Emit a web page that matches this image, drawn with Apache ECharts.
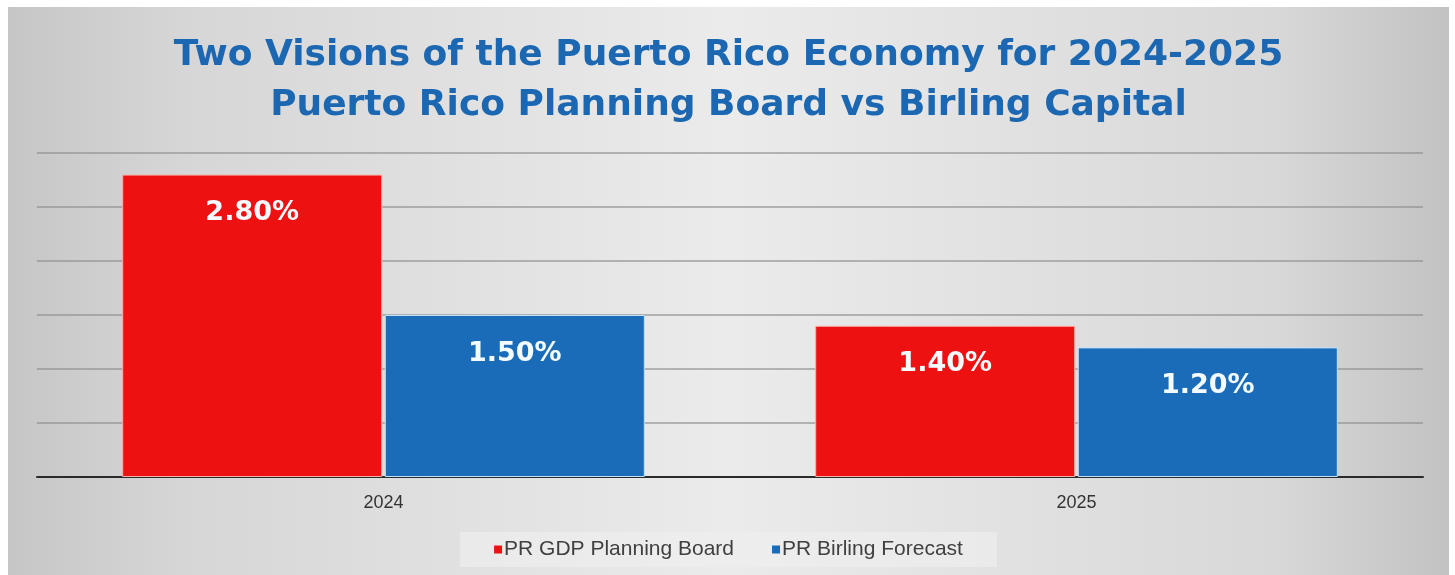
<!DOCTYPE html>
<html>
<head>
<meta charset="utf-8">
<script src="https://cdn.jsdelivr.net/npm/echarts@6/dist/echarts.min.js"></script>
<style>
html,body{margin:0;padding:0;background:#ffffff;width:1455px;height:575px;overflow:hidden;}
#chart{position:absolute;left:8px;top:7px;width:1441px;height:568px;}
</style>
</head>
<body>
<div id="chart"></div>
<script>
const categories = ['2024', '2025'];
const planningBoard = [2.8, 1.4];
const birlingForecast = [1.5, 1.2];
const seriesNames = ['PR GDP Planning Board', 'PR Birling Forecast'];
const titleLines = ['Two Visions of the Puerto Rico Economy for 2024-2025', 'Puerto Rico Planning Board vs Birling Capital'];

const chart = echarts.init(document.getElementById('chart'), null, {renderer: 'canvas'});

const labelStyle = {
  show: true,
  position: 'insideTop',
  distance: 25,
  color: '#f4fbff',
  fontFamily: '"DejaVu Sans", sans-serif',
  fontWeight: 'bold',
  fontSize: 27,
  formatter: p => p.value.toFixed(2) + '%'
};

chart.setOption({
  backgroundColor: {
    type: 'linear', x: 0, y: 0, x2: 1, y2: 0,
    colorStops: [
      {offset: 0, color: '#c6c6c6'},
      {offset: 0.12, color: '#d6d6d6'},
      {offset: 0.5, color: '#ebebeb'},
      {offset: 0.88, color: '#d8d8d8'},
      {offset: 1, color: '#c2c2c2'}
    ]
  },
  title: {
    text: titleLines.join('\n'),
    left: 'center',
    top: 19,
    textStyle: {
      color: '#1b67b2',
      fontFamily: '"DejaVu Sans", sans-serif',
      fontWeight: 'bold',
      fontSize: 36,
      lineHeight: 50
    }
  },
  legend: {
    data: seriesNames,
    bottom: 8,
    left: 'center',
    itemWidth: 8,
    itemHeight: 8,
    itemGap: 38,
    icon: 'rect',
    itemStyle: {borderWidth: 0},
    padding: [7, 34, 7, 34],
    backgroundColor: 'rgba(238,238,238,0.7)',
    textStyle: {
      color: '#404040',
      fontFamily: '"Liberation Sans", Arial, sans-serif',
      fontSize: 21,
      padding: [0, 0, 0, -3]
    }
  },
  grid: {
    left: 29,
    right: 26,
    top: 146,
    bottom: 98,
    containLabel: false
  },
  xAxis: {
    type: 'category',
    data: categories,
    axisLine: {show: true, lineStyle: {color: '#2a2a2a', width: 2}},
    axisTick: {show: false},
    axisLabel: {
      color: '#333333',
      fontFamily: '"Liberation Sans", Arial, sans-serif',
      fontSize: 18,
      margin: 17
    }
  },
  yAxis: {
    type: 'value',
    min: 0,
    max: 3,
    interval: 0.5,
    axisLabel: {show: false},
    axisLine: {show: false},
    axisTick: {show: false},
    splitLine: {lineStyle: {color: '#8e8e8e', width: 1.5, opacity: 0.8}}
  },
  series: [
    {
      name: seriesNames[0],
      type: 'bar',
      data: planningBoard,
      barWidth: 260,
      barGap: '1%',
      itemStyle: {color: '#ee1111', borderColor: '#f7b0a8', borderWidth: 1},
      label: labelStyle
    },
    {
      name: seriesNames[1],
      type: 'bar',
      data: birlingForecast,
      barWidth: 260,
      itemStyle: {color: '#1a6bb8', borderColor: '#bfe3f7', borderWidth: 1},
      label: labelStyle
    }
  ]
});
</script>
</body>
</html>
